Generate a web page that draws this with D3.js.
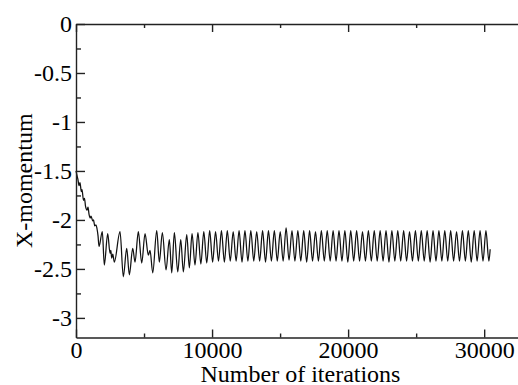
<!DOCTYPE html>
<html>
<head>
<meta charset="utf-8">
<script src="https://cdn.jsdelivr.net/npm/d3@7"></script>
<style>
    body { margin: 0; background: #fff; }
    #chart { width: 518px; height: 385px; }
    text { font-family: "Liberation Serif", "Times New Roman", serif; fill: #000; }
</style>
</head>
<body>
<div id="chart"></div>
<script>
// X-momentum vs. number of iterations

// transient part: decay from -1.5 and irregular wiggles
const transientIter = [0, 96, 147, 221, 294, 390, 441, 551, 625, 699, 809, 882, 956, 1051, 1103,
    1228, 1287, 1375, 1471, 1544, 1618, 1691, 1934, 2081, 2331, 2500, 2559, 2625, 2706, 2816,
    3235, 3478, 3728, 3919, 4169, 4338, 4581, 4831, 5074, 5316, 5441, 5640, 5934, 6125, 6346,
    6618, 6860, 7037, 7228, 7478, 7699, 7890, 8140, 8331];
const transientMom = [-1.50, -1.56, -1.59, -1.65, -1.62, -1.71, -1.69, -1.80, -1.78, -1.86, -1.90, -1.87, -1.94, -1.98, -1.96,
    -2.01, -2.00, -2.06, -2.05, -2.09, -2.16, -2.27, -2.12, -2.46, -2.14, -2.34, -2.31, -2.39, -2.35, -2.43,
    -2.12, -2.58, -2.29, -2.56, -2.29, -2.43, -2.12, -2.44, -2.14, -2.36, -2.31, -2.54, -2.11, -2.43, -2.13,
    -2.51, -2.20, -2.54, -2.13, -2.53, -2.20, -2.53, -2.15, -2.49];

// steady oscillation: alternating peaks and troughs
const steadyIter = [8529, 8745, 8961, 9177, 9393, 9609, 9825, 10041, 10257, 10473,
    10689, 10905, 11121, 11337, 11553, 11769, 11985, 12201, 12417, 12633,
    12849, 13065, 13281, 13497, 13713, 13929, 14145, 14361, 14577, 14793,
    15009, 15225, 15441, 15657, 15873, 16089, 16305, 16521, 16737, 16953,
    17169, 17385, 17601, 17817, 18033, 18249, 18465, 18681, 18897, 19113,
    19329, 19545, 19761, 19977, 20193, 20409, 20625, 20841, 21057, 21273,
    21489, 21705, 21921, 22137, 22353, 22569, 22785, 23001, 23217, 23433,
    23649, 23865, 24081, 24297, 24513, 24729, 24945, 25161, 25377, 25593,
    25809, 26025, 26241, 26457, 26673, 26889, 27105, 27321, 27537, 27753,
    27969, 28185, 28401, 28617, 28833, 29049, 29265, 29481, 29697, 29913,
    30129, 30345, 30440];
const steadyMom = [-2.14, -2.46, -2.13, -2.45, -2.12, -2.44, -2.11, -2.43, -2.12, -2.42,
    -2.11, -2.43, -2.11, -2.42, -2.12, -2.42, -2.11, -2.43, -2.11, -2.42,
    -2.11, -2.42, -2.12, -2.42, -2.11, -2.43, -2.11, -2.42, -2.11, -2.42,
    -2.12, -2.42, -2.08, -2.41, -2.11, -2.42, -2.11, -2.42, -2.11, -2.43,
    -2.11, -2.42, -2.12, -2.42, -2.11, -2.42, -2.11, -2.42, -2.11, -2.42,
    -2.11, -2.42, -2.11, -2.43, -2.11, -2.42, -2.11, -2.42, -2.12, -2.42,
    -2.11, -2.42, -2.11, -2.42, -2.11, -2.42, -2.11, -2.43, -2.11, -2.42,
    -2.11, -2.42, -2.11, -2.42, -2.12, -2.42, -2.11, -2.42, -2.11, -2.42,
    -2.11, -2.43, -2.11, -2.42, -2.11, -2.42, -2.11, -2.42, -2.11, -2.42,
    -2.12, -2.42, -2.11, -2.42, -2.11, -2.43, -2.11, -2.42, -2.11, -2.42,
    -2.11, -2.42, -2.30];

const xMajorTicks = [0, 10000, 20000, 30000];
const xMinorTicks = [5000, 15000, 25000];
const yMajorTicks = [0, -0.5, -1, -1.5, -2, -2.5, -3];
const yMinorTicks = [-0.25, -0.75, -1.25, -1.75, -2.25, -2.75];

class MomentumLineVis {

    constructor(parentElement) {
        this.parentElement = parentElement;
        this.data = transientIter.map((d, i) => ({ iter: d, mom: transientMom[i] }))
            .concat(steadyIter.map((d, i) => ({ iter: d, mom: steadyMom[i] })));
        this.initVis();
    }

    initVis() {
        let vis = this;

        vis.margin = { top: 24, right: -7, bottom: 47.5, left: 76 };
        vis.width = 518 - vis.margin.left - vis.margin.right;
        vis.height = 385 - vis.margin.top - vis.margin.bottom;

        vis.svg = d3.select("#" + vis.parentElement).append("svg")
            .attr("width", 518)
            .attr("height", 385);

        vis.g = vis.svg.append("g")
            .attr("transform", `translate(${vis.margin.left},${vis.margin.top})`);

        vis.x = d3.scaleLinear().domain([0, 33000]).range([0, vis.width]);
        vis.y = d3.scaleLinear().domain([-3.2, 0]).range([vis.height, 0]);

        // the curve
        vis.line = d3.line()
            .x(d => vis.x(d.iter))
            .y(d => vis.y(d.mom))
            .curve(d3.curveMonotoneX);

        vis.g.append("path")
            .datum(vis.data)
            .attr("fill", "none")
            .attr("stroke", "#111")
            .attr("stroke-width", 1.25)
            .attr("d", vis.line);

        // axes, ticks pointing inward; plain hyphen for negatives like the original
        const fontSize = "24px";

        let xAxis = vis.g.append("g")
            .attr("transform", `translate(0,${vis.height})`)
            .call(d3.axisBottom(vis.x).tickValues(xMajorTicks).tickSize(-8).tickSizeOuter(0).tickPadding(4).tickFormat(d => String(d)));
        xAxis.selectAll("text").attr("font-size", fontSize).attr("dy", "0.68em");

        vis.g.append("g")
            .attr("transform", `translate(0,${vis.height})`)
            .call(d3.axisBottom(vis.x).tickValues(xMinorTicks).tickSize(-4).tickFormat(""))
            .select(".domain").remove();

        vis.g.append("g")
            .call(d3.axisTop(vis.x).tickValues(xMajorTicks).tickSize(-8).tickSizeOuter(0).tickFormat(""));
        vis.g.append("g")
            .call(d3.axisTop(vis.x).tickValues(xMinorTicks).tickSize(-4).tickFormat(""))
            .select(".domain").remove();

        let yAxis = vis.g.append("g")
            .call(d3.axisLeft(vis.y).tickValues(yMajorTicks).tickSize(-9).tickSizeOuter(0).tickPadding(4).tickFormat(d => String(d)));
        yAxis.selectAll("text").attr("font-size", fontSize);

        vis.g.append("g")
            .call(d3.axisLeft(vis.y).tickValues(yMinorTicks).tickSize(-5).tickFormat(""))
            .select(".domain").remove();

        vis.g.selectAll(".domain, .tick line")
            .attr("stroke", "#222")
            .attr("stroke-width", 1.4);

        // axis titles
        vis.g.append("text")
            .attr("x", vis.width / 2)
            .attr("y", vis.height + 44)
            .attr("text-anchor", "middle")
            .attr("font-size", fontSize)
            .text("Number of iterations");

        vis.g.append("text")
            .attr("transform", `translate(${32 - vis.margin.left},${vis.height / 2}) rotate(-90)`)
            .attr("text-anchor", "middle")
            .attr("font-size", fontSize)
            .text("X-momentum");
    }
}

new MomentumLineVis("chart");
</script>
</body>
</html>
